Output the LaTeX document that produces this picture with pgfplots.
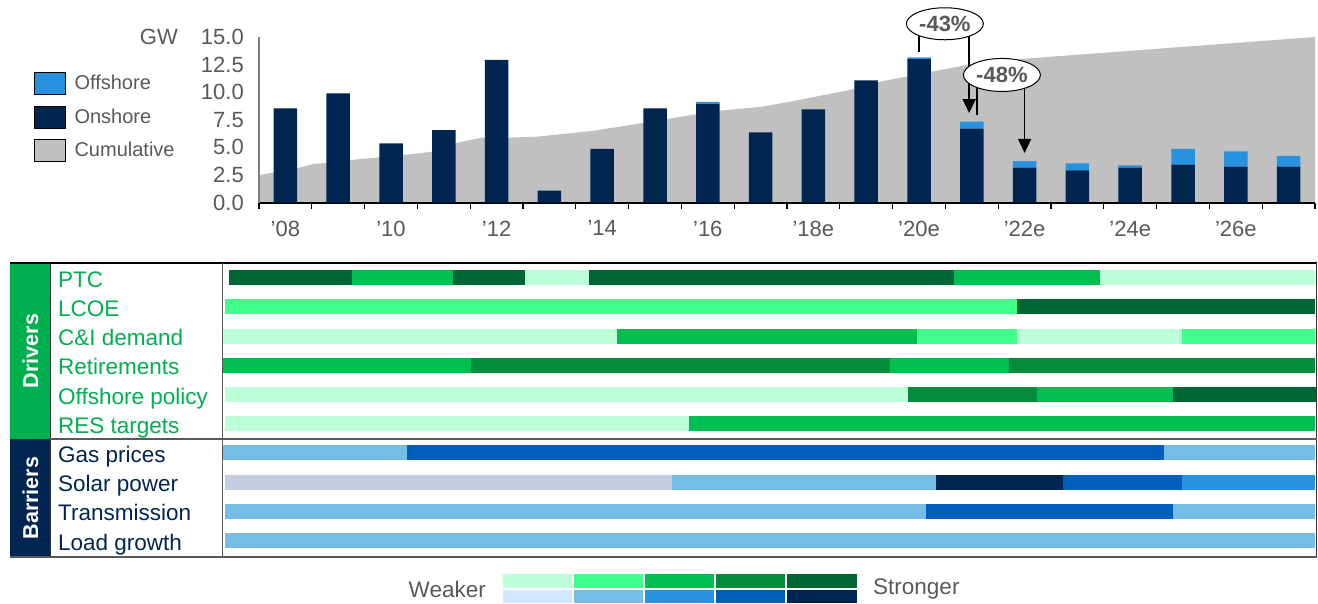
\documentclass[border=0pt]{standalone}
\usepackage{fontspec}
\setmainfont{Liberation Sans}
\usepackage{pgfplots}
\usepackage{pgfplotstable}
\pgfplotsset{compat=1.18}
\usetikzlibrary{arrows.meta,shapes.geometric}

\definecolor{navy}{HTML}{002550}
\definecolor{offc}{HTML}{2891E0}
\definecolor{cumc}{HTML}{C0C0C0}
\definecolor{txtgray}{HTML}{595959}
\definecolor{axgray}{HTML}{7F7F7F}
\definecolor{drvgreen}{HTML}{00B050}
\definecolor{gA}{HTML}{BDFFD8}
\definecolor{gB}{HTML}{40FF8A}
\definecolor{gC}{HTML}{00BF50}
\definecolor{gD}{HTML}{008C3A}
\definecolor{gE}{HTML}{006633}
\definecolor{bA}{HTML}{D1E6FF}
\definecolor{bB}{HTML}{75BDE5}
\definecolor{bC}{HTML}{2892E0}
\definecolor{bD}{HTML}{005FBB}
\definecolor{bE}{HTML}{002550}
\definecolor{solarg}{HTML}{C5CEE0}

\newcommand\fT{\fontsize{22}{26}\selectfont}
\newcommand\fL{\fontsize{20}{24}\selectfont}
\newcommand\fR{\fontsize{22.5}{27}\selectfont}

\pgfplotstableread{
idx onshore offshore
0  8.54 0
1  9.90 0
2  5.37 0
3  6.57 0
4  12.92 0
5  1.07 0
6  4.85 0
7  8.54 0
8  8.96 0.15
9  6.36 0
10 8.45 0
11 11.08 0
12 13.00 0.16
13 6.69 0.64
14 3.15 0.61
15 2.92 0.63
16 3.15 0.22
17 3.43 1.42
18 3.25 1.39
19 3.25 0.97
}\windtable

\pgfplotstableread{
x y
-0.5 2.49
-0.24 2.7
0.22 3.1
0.53 3.5
0.8 3.58
1.23 3.85
1.8 4.1
2.23 4.3
2.78 4.6
3.21 5.37
3.72 5.88
4.25 5.88
4.77 5.97
5.8 6.48
6.77 7.2
8.17 8.3
8.99 8.66
9.56 9.14
10.69 10.2
11.26 10.95
12.25 11.86
12.91 12.47
13.45 12.8
14.1 13.07
19.5 15.0
}\cumtable

% one segment of a driver/barrier timeline: {row centre}{from}{to}{colour}
\newcommand\seg[4]{\addplot[draw=#4, line width=15pt, line cap=butt, forget plot] coordinates {(#2,#1) (#3,#1)};}

\begin{document}
\begin{tikzpicture}
\useasboundingbox (0pt,0pt) rectangle (1318pt,-603pt);

% ---------- cumulative area (behind) ----------
\begin{axis}[
  at={(259pt,-202.5pt)}, anchor=south west,
  scale only axis, width=1056pt, height=165.5pt,
  xmin=-0.5, xmax=19.5, ymin=0, ymax=15,
  hide axis, clip=false,
]
\addplot[fill=cumc, draw=none] table[x=x, y=y] {\cumtable} \closedcycle;
\end{axis}

% ---------- annual additions ----------
\begin{axis}[
  at={(259pt,-202.5pt)}, anchor=south west,
  scale only axis, width=1056pt, height=165.5pt,
  xmin=-0.5, xmax=19.5, ymin=0, ymax=15,
  ybar stacked, bar width=23.5pt,
  axis x line=bottom, axis y line=left,
  x axis line style={-, line width=2pt, black},
  y axis line style={-, line width=1.5pt, axgray},
  xtick={0,2,...,18},
  xticklabels={’08,’10,’12,’14,’16,’18e,’20e,’22e,’24e,’26e},
  minor xtick={-0.5,0.5,...,19.5},
  major tick length=0pt, minor tick length=6pt, tick align=outside,
  minor x tick style={black, line width=1.2pt},
  ytick={0,2.5,...,15},
  /pgf/number format/fixed, /pgf/number format/fixed zerofill,
  /pgf/number format/precision=1, /pgf/number format/assume math mode=true,
  yticklabel style={font=\fT, text=txtgray, anchor=east, inner sep=0pt, xshift=-15pt},
  xticklabel style={font=\fT, text=txtgray, anchor=north, inner sep=0pt, yshift=-18pt},
  clip=false,
  legend style={at={(-0.2131,0.7885)}, anchor=north west, draw=none, fill=none,
     inner sep=0pt, row sep=11pt, column sep=7pt, font=\fL, text=txtgray, cells={anchor=west}},
  legend cell align=left,
  legend image code/.code={\fill[#1] (0pt,-11pt) rectangle (31pt,11pt);},
]
\addlegendimage{fill=offc}\addlegendentry{Offshore}
\addlegendimage{fill=navy}\addlegendentry{Onshore}
\addlegendimage{fill=cumc}\addlegendentry{Cumulative}
\addplot[fill=navy, draw=none, forget plot] table[x=idx, y=onshore] {\windtable};
\addplot[fill=offc, draw=none, forget plot] table[x=idx, y=offshore] {\windtable};

% -48% annotation
\node[ellipse, draw, fill=white, line width=1pt, minimum width=77pt, minimum height=33pt,
      inner sep=0pt, font=\bfseries\fT, text=txtgray] at (axis cs:13.57,11.56) {-48\%};
\draw[line width=1.6pt] (axis cs:13.1,10.42) -- (axis cs:13.1,7.93);
\draw[line width=1.6pt, -{Triangle[length=14pt,width=13pt]}] (axis cs:14.0,10.35) -- (axis cs:14.0,4.49);
% -43% annotation
\draw[line width=1.6pt] (axis cs:12.0,15.13) -- (axis cs:12.0,13.65);
\draw[line width=1.6pt, -{Triangle[length=14pt,width=13pt]}] (axis cs:12.95,15.08) -- (axis cs:12.95,8.11);
\node[ellipse, draw, fill=white, line width=1pt, minimum width=77pt, minimum height=32pt,
      inner sep=0pt, font=\bfseries\fT, text=txtgray] at (axis cs:12.49,16.2) {-43\%};
\end{axis}

\node[anchor=east, inner sep=0pt, font=\fT, text=txtgray] at (178pt,-37pt) {GW};

% ---------- drivers and barriers panel ----------
\begin{axis}[
  at={(0pt,0pt)}, anchor=north west,
  scale only axis, width=1318pt, height=603pt,
  xmin=0, xmax=1318, ymin=0, ymax=603, y dir=reverse,
  hide axis, clip=false,
]
\fill[drvgreen] (10,263) rectangle (50,439);
\fill[navy] (10,439) rectangle (50,557);
\node[rotate=90, font=\bfseries\fontsize{21.5}{26}\selectfont, text=white] at (30.5,351) {Drivers};
\node[rotate=90, font=\bfseries\fontsize{21.5}{26}\selectfont, text=white] at (30.5,498) {Barriers};

% PTC
\seg{277.7}{229}{352}{gE}\seg{277.7}{352}{453}{gC}\seg{277.7}{453}{525}{gE}
\seg{277.7}{525}{589}{gA}\seg{277.7}{589}{954}{gE}\seg{277.7}{954}{1100}{gC}
\seg{277.7}{1100}{1315}{gA}
% LCOE
\seg{306.9}{225}{1017}{gB}\seg{306.9}{1017}{1315}{gE}
% C&I demand
\seg{336.1}{222}{617}{gA}\seg{336.1}{617}{917}{gC}\seg{336.1}{917}{1017}{gB}
\seg{336.1}{1017}{1182}{gA}\seg{336.1}{1182}{1315}{gB}
% Retirements
\seg{365.3}{222}{471}{gC}\seg{365.3}{471}{890}{gD}\seg{365.3}{890}{1009}{gC}
\seg{365.3}{1009}{1315}{gD}
% Offshore policy
\seg{394.5}{225}{908}{gA}\seg{394.5}{908}{1037}{gD}\seg{394.5}{1037}{1173}{gC}
\seg{394.5}{1173}{1316}{gE}
% RES targets
\seg{423.7}{225}{689}{gA}\seg{423.7}{689}{1315}{gC}
% Gas prices
\seg{452.9}{222}{407}{bB}\seg{452.9}{407}{1164}{bD}\seg{452.9}{1164}{1315}{bB}
% Solar power
\seg{482.1}{225}{672}{solarg}\seg{482.1}{672}{936}{bB}\seg{482.1}{936}{1063}{bE}
\seg{482.1}{1063}{1182}{bD}\seg{482.1}{1182}{1315}{bC}
% Transmission
\seg{511.3}{225}{926}{bB}\seg{511.3}{926}{1173}{bD}\seg{511.3}{1173}{1315}{bB}
% Load growth
\seg{540.5}{225}{1315}{bB}

% frame
\draw[line width=1.5pt, black] (10,263) -- (1317,263);
\draw[line width=1.5pt, txtgray] (10,557) -- (1317,557);
\draw[line width=1.2pt, black!80] (1316.5,263) -- (1316.5,557);
\draw[line width=1pt, txtgray] (222.5,263) -- (222.5,557);
\draw[line width=1pt, black!80] (50,263) -- (50,557);
\draw[line width=1.5pt, txtgray] (50,439) -- (1317,439);

% row labels
\begin{scope}[every node/.style={anchor=base west, inner sep=0pt, font=\fR}]
\node[text=drvgreen] at (58,287.2) {PTC};
\node[text=drvgreen] at (58,316.4) {LCOE};
\node[text=drvgreen] at (58,345.6) {C\&I demand};
\node[text=drvgreen] at (58,374.8) {Retirements};
\node[text=drvgreen] at (58,404.0) {Offshore policy};
\node[text=drvgreen] at (58,433.2) {RES targets};
\node[text=navy] at (58,462.4) {Gas prices};
\node[text=navy] at (58,491.6) {Solar power};
\node[text=navy] at (58,520.8) {Transmission};
\node[text=navy] at (58,550.0) {Load growth};
\end{scope}

% strength scale
\fill[gA] (503,574) rectangle (572,588);  \fill[bA] (503,590) rectangle (572,603);
\fill[gB] (574,574) rectangle (643,588);  \fill[bB] (574,590) rectangle (643,603);
\fill[gC] (645,574) rectangle (714,588);  \fill[bC] (645,590) rectangle (714,603);
\fill[gD] (716,574) rectangle (785,588);  \fill[bD] (716,590) rectangle (785,603);
\fill[gE] (787,574) rectangle (857,588);  \fill[bE] (787,590) rectangle (857,603);
\node[anchor=east, inner sep=0pt, font=\fR, text=txtgray] at (486,589) {Weaker};
\node[anchor=west, inner sep=0pt, font=\fR, text=txtgray] at (873,589) {Stronger};
\end{axis}
\end{tikzpicture}
\end{document}
